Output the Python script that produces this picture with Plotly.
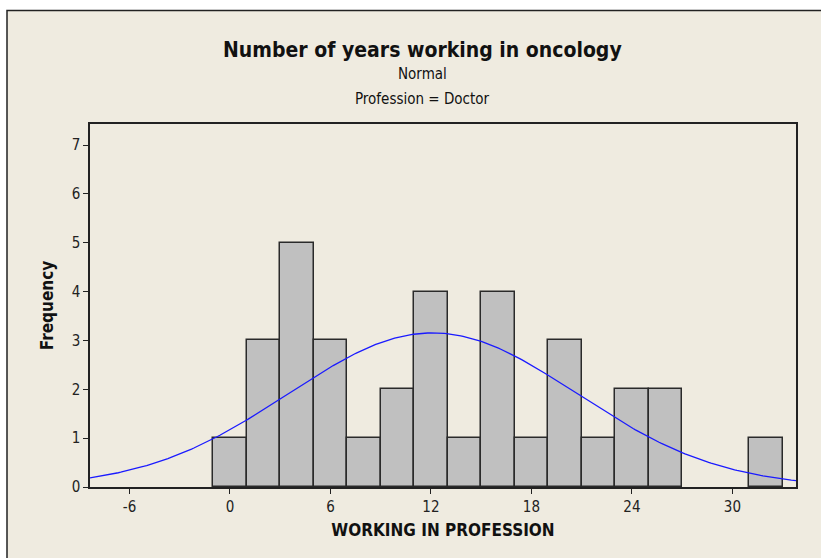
import numpy as np
import plotly.graph_objects as go

# Data
bin_centers = [0, 2, 4, 6, 8, 10, 12, 14, 16, 18, 20, 22, 24, 26, 28, 30, 32]
counts = [1, 3, 5, 3, 1, 2, 4, 1, 4, 1, 3, 1, 2, 2, 0, 0, 1]
bin_width = 2
fit_mean = 12.1
fit_sd = 8.6
x_ticks = [-6, 0, 6, 12, 18, 24, 30]
x_tick_text = ["-6", "0", "6", "12", "18", "24", "30"]
y_ticks = [0, 1, 2, 3, 4, 5, 6, 7]

n_total = sum(counts)
xr = [-8.36, 33.8]
xs = np.linspace(xr[0], xr[1], 300)
ys = n_total * bin_width / (fit_sd * np.sqrt(2 * np.pi)) * np.exp(-((xs - fit_mean) ** 2) / (2 * fit_sd ** 2))

FONT = "DejaVu Sans Condensed, DejaVu Sans, sans-serif"
W, H = 821, 558
L, R, T, B = 90, 25, 124, 71
pw, ph = W - L - R, H - T - B

fig = go.Figure()
fig.add_trace(go.Bar(
    x=bin_centers, y=counts, width=[bin_width] * len(counts),
    marker=dict(color="#c0c0c0",
                line=dict(color="#2a2a2a", width=[1.5 if c > 0 else 0 for c in counts])),
    hoverinfo="x+y", showlegend=False,
))
fig.add_trace(go.Scatter(
    x=xs, y=ys, mode="lines", line=dict(color="#1a1aff", width=1.3),
    showlegend=False, hoverinfo="skip",
))

def px_x(p):
    return (p - L) / pw

def px_y(p):
    return (H - B - p) / ph

fig.update_layout(
    width=W, height=H,
    margin=dict(l=L, r=R, t=T, b=B),
    paper_bgcolor="white",
    plot_bgcolor="white",
    bargap=0,
    font=dict(family=FONT, color="#1a1a1a", size=14),
    shapes=[dict(
        type="rect", xref="paper", yref="paper", layer="below",
        x0=px_x(7), x1=px_x(W + 5), y0=px_y(H + 5), y1=px_y(10.5),
        fillcolor="#efebe0", line=dict(color="#222222", width=1.5),
    )],
    annotations=[
        dict(text="<b>Number of years working in oncology</b>", xref="paper", yref="paper",
             x=px_x(422), y=px_y(50), showarrow=False, xanchor="center", yanchor="middle",
             font=dict(family=FONT, size=21, color="#111111")),
        dict(text="Normal", xref="paper", yref="paper",
             x=px_x(422), y=px_y(74), showarrow=False, xanchor="center", yanchor="middle",
             font=dict(family=FONT, size=15, color="#111111")),
        dict(text="Profession = Doctor", xref="paper", yref="paper",
             x=px_x(422), y=px_y(99), showarrow=False, xanchor="center", yanchor="middle",
             font=dict(family=FONT, size=15, color="#111111")),
    ],
    xaxis=dict(
        range=xr, tickvals=x_ticks, ticktext=x_tick_text, ticks="outside", ticklen=5, tickcolor="#222",
        showline=True, linecolor="#222", linewidth=1.5, mirror=True,
        showgrid=False, zeroline=False,
        tickfont=dict(family=FONT, size=15, color="#222"),
        title=dict(text="<b>WORKING IN PROFESSION</b>", font=dict(family=FONT, size=17, color="#111"), standoff=9),
    ),
    yaxis=dict(
        range=[0, 7.43], tickvals=y_ticks, ticks="outside", ticklen=5, tickcolor="#222",
        showline=True, linecolor="#222", linewidth=1.5, mirror=True,
        showgrid=False, zeroline=False,
        tickfont=dict(family=FONT, size=15, color="#222"),
        title=dict(text="<b>Frequency</b>", font=dict(family=FONT, size=17, color="#111"), standoff=14),
    ),
)

fig.write_html("out.html", config={"displayModeBar": False},
               post_script="document.body.style.margin='0px';document.body.style.overflow='hidden';")
